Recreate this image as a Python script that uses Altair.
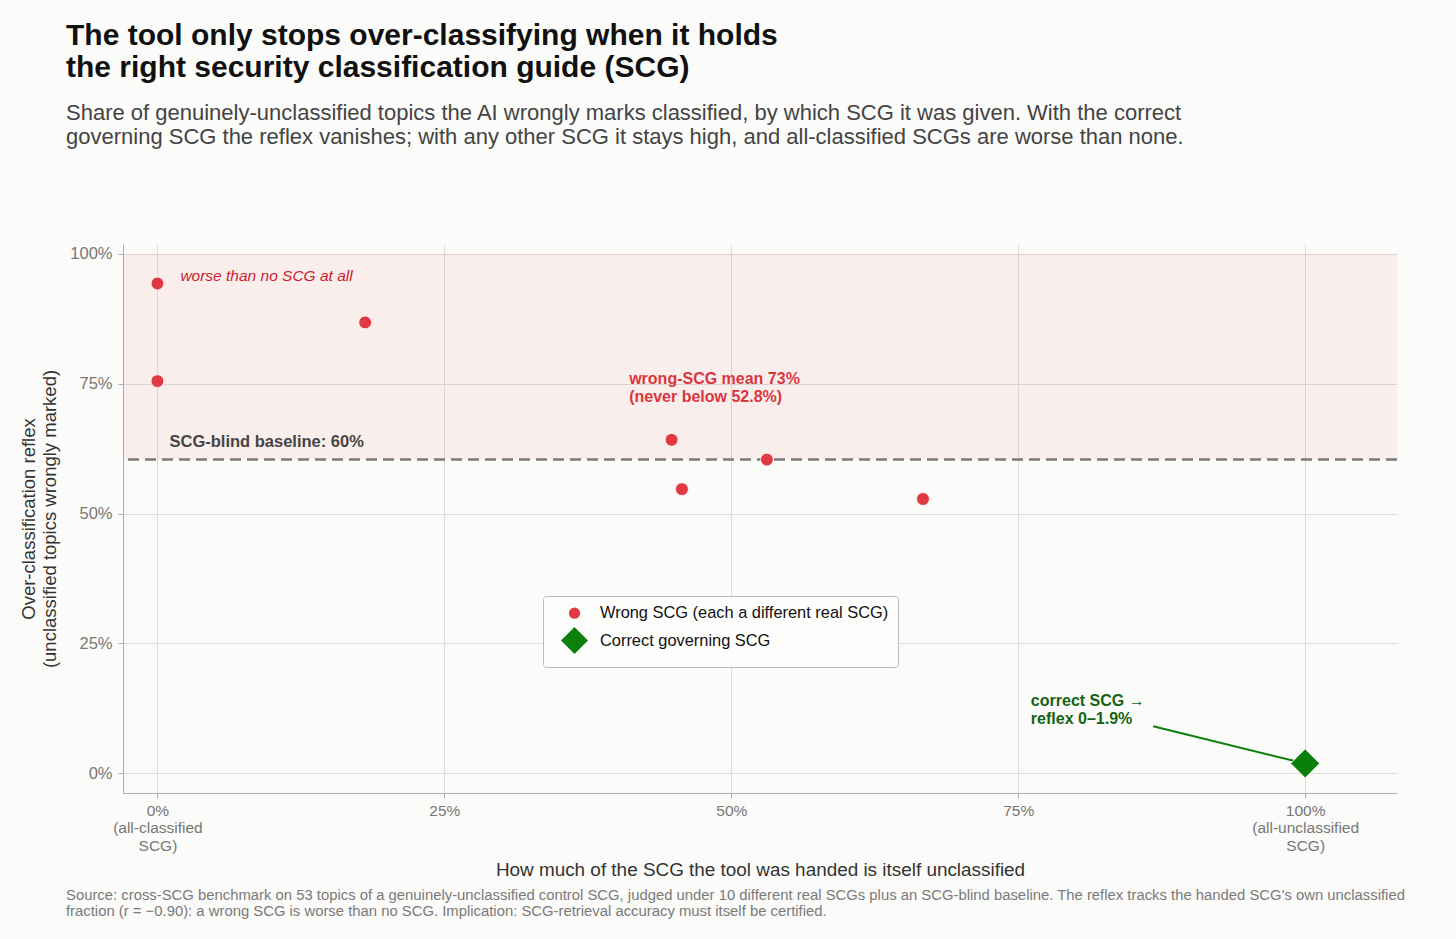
import altair as alt
import pandas as pd

# Each wrong SCG: fraction of the handed SCG that is itself unclassified, and the reflex it produced
wrong_unclassified_share = [0.0, 0.0, 0.181, 0.448, 0.457, 0.531, 0.667]
wrong_reflex = [0.943, 0.755, 0.868, 0.642, 0.547, 0.604, 0.528]

# The correct governing SCG
correct_unclassified_share = [1.0]
correct_reflex = [0.019]

# SCG-blind baseline reflex
baseline_reflex = 0.604

series_names = ["Wrong SCG (each a different real SCG)", "Correct governing SCG"]
tick_values = [0, 0.25, 0.5, 0.75, 1.0]

footer_lines = [
    "Source: cross-SCG benchmark on 53 topics of a genuinely-unclassified control SCG, judged under 10 different real SCGs plus an SCG-blind baseline. The reflex tracks the handed SCG's own unclassified",
    "fraction (r = \u22120.90): a wrong SCG is worse than no SCG. Implication: SCG-retrieval accuracy must itself be certified.",
]

FONT = "Liberation Sans"
W, H = 1274, 549
RED = "#e0393f"
GREEN = "#0a800a"

points = pd.DataFrame({
    "share": wrong_unclassified_share + correct_unclassified_share,
    "reflex": wrong_reflex + correct_reflex,
    "kind": [series_names[0]] * len(wrong_reflex) + [series_names[1]] * len(correct_reflex),
})

x_scale = alt.Scale(domain=[-0.03, 1.08], nice=False, zero=False)
y_scale = alt.Scale(domain=[-0.038, 1.019], nice=False, zero=False)

x_label_expr = (
    "datum.value == 0 ? ['0%', '(all-classified', 'SCG)'] : "
    "datum.value == 1 ? ['100%', '(all-unclassified', 'SCG)'] : format(datum.value, '.0%')"
)

x_enc = alt.X(
    "share:Q", scale=x_scale,
    axis=alt.Axis(
        values=tick_values, labelExpr=x_label_expr, format=".0%",
        title="How much of the SCG the tool was handed is itself unclassified",
        labelLineHeight=17.5, labelPadding=5, titlePadding=7,
    ),
)
y_enc = alt.Y(
    "reflex:Q", scale=y_scale,
    axis=alt.Axis(
        values=tick_values, format=".0%",
        title=["Over-classification reflex", "(unclassified topics wrongly marked)"],
        titlePadding=10, labelPadding=6, titleLineHeight=21,
    ),
)

# Shaded zone above the SCG-blind baseline
zone = alt.Chart(pd.DataFrame({"lo": [baseline_reflex], "hi": [1.0]})).mark_rect(
    color="#d62728", opacity=0.06
).encode(
    x=alt.value(0), x2=alt.value(W),
    y=alt.Y("lo:Q", scale=y_scale), y2="hi:Q",
)

baseline = alt.Chart(pd.DataFrame({"reflex": [baseline_reflex]})).mark_rule(
    color="#7a7a7a", strokeWidth=2.5, strokeDash=[11, 6]
).encode(y=alt.Y("reflex:Q", scale=y_scale))

# Leader from the green note to the correct-SCG marker
leader = alt.Chart(pd.DataFrame({"x": [0.8675], "y": [0.0906], "x2": [0.99], "y2": [0.024]})).mark_rule(
    color=GREEN, strokeWidth=2
).encode(
    x=alt.X("x:Q", scale=x_scale), y=alt.Y("y:Q", scale=y_scale), x2="x2:Q", y2="y2:Q"
)

scatter = alt.Chart(points).mark_point(filled=True, opacity=1, stroke="white", strokeWidth=0.8).encode(
    x=x_enc, y=y_enc,
    color=alt.Color("kind:N", scale=alt.Scale(domain=series_names, range=[RED, GREEN]),
                    legend=alt.Legend(title=None)),
    shape=alt.Shape("kind:N", scale=alt.Scale(domain=series_names, range=["circle", "diamond"]),
                    legend=alt.Legend(title=None)),
    size=alt.Size("kind:N", scale=alt.Scale(domain=series_names, range=[165, 841]),
                  legend=alt.Legend(title=None)),
)


def note(x, y, lines, color, size=16, weight="bold", style="normal"):
    return alt.Chart(pd.DataFrame({"x": [x], "y": [y]})).mark_text(
        text=lines, align="left", baseline="middle", font=FONT, fontSize=size,
        fontWeight=weight, fontStyle=style, color=color, lineHeight=18,
    ).encode(x=alt.X("x:Q", scale=x_scale), y=alt.Y("y:Q", scale=y_scale))


notes = [
    note(0.02, 0.958, "worse than no SCG at all", "#cc2230", size=15.5, weight="normal", style="italic"),
    note(0.411, 0.759, ["wrong-SCG mean 73%", "(never below 52.8%)"], "#d9363e"),
    note(0.0105, 0.638, "SCG-blind baseline: 60%", "#444444", size=16.5),
    note(0.761, 0.14, ["correct SCG \u2192", "reflex 0\u20131.9%"], "#146414"),
]

footer = alt.Chart(pd.DataFrame({"k": [0]})).mark_text(
    text=footer_lines, align="left", baseline="top", font=FONT, fontSize=14.85,
    color="#7a7a7a", lineHeight=16,
).encode(x=alt.value(-57), y=alt.value(644))

chart = alt.layer(zone, baseline, leader, scatter, *notes, footer).properties(
    width=W, height=H,
    autosize=alt.AutoSizeParams(type="none"),
    padding={"left": 123, "top": 244, "right": 59, "bottom": 146},
    background="#fbfbf9",
    title=alt.TitleParams(
        text=["The tool only stops over-classifying when it holds",
              "the right security classification guide (SCG)"],
        subtitle=["Share of genuinely-unclassified topics the AI wrongly marks classified, by which SCG it was given. With the correct",
                  "governing SCG the reflex vanishes; with any other SCG it stays high, and all-classified SCGs are worse than none."],
        anchor="start", frame="group", dx=-57, offset=96,
        font=FONT, fontSize=30, fontWeight="bold", color="#111111", lineHeight=32,
        subtitleFont=FONT, subtitleFontSize=22, subtitleColor="#444444", subtitleLineHeight=24,
        subtitlePadding=20,
    ),
).configure_view(stroke=None).configure_axis(
    labelFont=FONT, titleFont=FONT, labelFontSize=16.5, labelColor="#777777",
    titleFontSize=18.5, titleColor="#333333", titleFontWeight="normal",
    gridColor="#dddddd", domainColor="#b0b0b0", tickColor="#b0b0b0", tickSize=5,
).configure_axisX(titleFontSize=18.9, labelFontSize=15.5).configure_legend(
    orient="none", legendX=420, legendY=352, padding=9, strokeColor="#bbbbbb",
    fillColor="#fdfdfc", cornerRadius=3, labelFont=FONT, labelFontSize=16.4,
    labelColor="#111111", labelOffset=10, symbolOffset=7, rowPadding=0, labelLimit=500,
)

chart.save("out.html", embed_options={"renderer": "svg", "actions": False})
